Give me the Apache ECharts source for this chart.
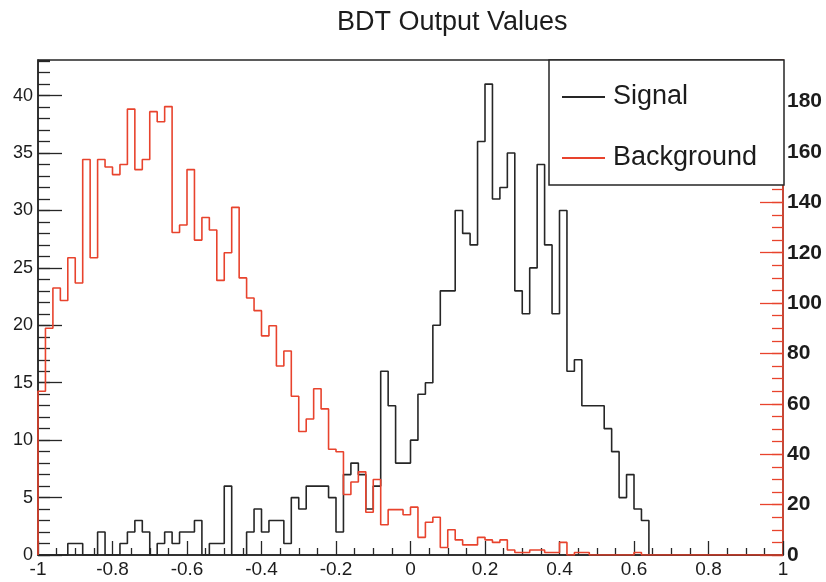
<!DOCTYPE html>
<html>
<head>
<meta charset="utf-8">
<script src="https://cdn.jsdelivr.net/npm/echarts@6/dist/echarts.min.js"></script>
<style>html,body{margin:0;padding:0;background:#fff;}#c{width:826px;height:582px;}</style>
</head>
<body>
<div id="c"></div>
<script>
// Histogram binning: 100 bins of width 0.02 from -1 to 1
const binLow = -1;
const binWidth = 0.02;

// Signal counts per bin (left axis)
const signalCounts = [
  0,0,0,0,1,1,0,0,2,0,
  0,1,2,3,2,0,1,2,1,2,
  2,3,0,1,1,6,0,0,2,4,
  2,3,3,1,5,4,6,6,6,5,
  2,7,8,7,4,6,16,13,8,8,
  10,14,15,20,23,23,30,28,27,36,
  41,31,32,35,23,21,25,34,27,21,
  30,16,17,13,13,13,11,9,5,7,
  4,3,0,0,0,0,0,0,0,0,
  0,0,0,0,0,0,0,0,0,0
];

// Background counts per bin (right axis)
const backgroundCounts = [
  65,90,106,101,118,108,157,118,157,154,
  151,155,177,153,157,176,172,178,128,131,
  153,125,134,129,109,120,138,110,102,97,
  87,91,75,81,63,49,54,66,58,42,
  41,24,29,33,17,30,12,18,18,16,
  19,7,13,15,3,10,6,4,4,7,
  6,5,6,2,1,1,2,2,1,1,
  5,0,1,1,0,0,0,0,0,0,
  1,0,0,0,0,0,0,0,0,0,
  0,0,0,0,0,0,0,0,0,0
];

const xTicks = { min: -1, max: 1, interval: 0.2 };
const leftAxis = { min: 0, max: 43.1, interval: 5, minor: 1 };
const rightAxis = { min: 0, max: 196.5, interval: 20, minor: 5 };

const titleText = 'BDT Output Values';
const seriesNames = ['Signal', 'Background'];

function histPoints(counts) {
  const pts = [[binLow, 0]];
  counts.forEach((c, i) => pts.push([+(binLow + i * binWidth).toFixed(4), c]));
  const end = +(binLow + counts.length * binWidth).toFixed(4);
  pts.push([end, counts[counts.length - 1]]);
  pts.push([end, 0]);
  return pts;
}

const BLACK = '#262626';
const RED = '#e8432d';
const FONT = 'Liberation Sans, Arial, sans-serif';

const chart = echarts.init(document.getElementById('c'), null, { renderer: 'canvas' });
chart.setOption({
  animation: false,
  backgroundColor: '#fff',
  title: {
    text: titleText,
    left: 332, top: 4,
    textStyle: { fontSize: 27, fontWeight: 'normal', color: '#1c1c1c', fontFamily: FONT }
  },
  grid: { left: 38, right: 43, top: 60, bottom: 27, show: true, borderColor: BLACK, borderWidth: 1.5, backgroundColor: 'transparent' },
  legend: {
    left: 557, top: 77, orient: 'vertical', z: 10,
    itemWidth: 43, itemHeight: 2, itemGap: 31, icon: 'rect',
    textStyle: { fontSize: 27, lineHeight: 30, color: '#1c1c1c', fontFamily: FONT, padding: [0, 0, 0, 3] },
    data: seriesNames
  },
  graphic: [{
    type: 'rect', z: 5,
    shape: { x: 549, y: 60, width: 235, height: 125 },
    style: { fill: '#fff', stroke: BLACK, lineWidth: 1.5 }
  }],
  xAxis: {
    type: 'value', min: xTicks.min, max: xTicks.max, interval: xTicks.interval,
    axisLine: { show: true, onZero: false, lineStyle: { color: BLACK, width: 1.5 } },
    axisTick: { inside: true, length: 14, lineStyle: { color: BLACK, width: 1.3 } },
    minorTick: { show: true, splitNumber: 4, length: 7, lineStyle: { color: BLACK, width: 1.3 } },
    splitLine: { show: false },
    axisLabel: { fontSize: 19, color: '#1c1c1c', fontFamily: FONT, margin: 5 }
  },
  yAxis: [
    {
      type: 'value', position: 'left', min: leftAxis.min, max: leftAxis.max, interval: leftAxis.interval,
      axisLine: { show: true, onZero: false, lineStyle: { color: BLACK, width: 1.5 } },
      axisTick: { show: true, inside: true, length: 24, lineStyle: { color: BLACK, width: 1.3 } },
      splitLine: { show: false },
      axisLabel: { fontSize: 18, color: '#1c1c1c', fontFamily: FONT, margin: 5, showMaxLabel: false }
    },
    {
      type: 'value', position: 'right', min: rightAxis.min, max: rightAxis.max, interval: rightAxis.interval,
      axisLine: { show: true, onZero: false, lineStyle: { color: RED, width: 1.5 } },
      axisTick: { show: true, inside: true, length: 23, lineStyle: { color: RED, width: 1.3 } },
      splitLine: { show: false },
      axisLabel: { fontSize: 21, fontWeight: 'bold', color: '#1c1c1c', fontFamily: FONT, margin: 4, showMaxLabel: false }
    },
    {
      type: 'value', position: 'left', min: leftAxis.min, max: leftAxis.max, interval: leftAxis.minor,
      axisLine: { show: false, onZero: false },
      axisTick: { show: true, inside: true, length: 12, lineStyle: { color: BLACK, width: 1.3 } },
      splitLine: { show: false },
      axisLabel: { show: false }
    },
    {
      type: 'value', position: 'right', min: rightAxis.min, max: rightAxis.max, interval: rightAxis.minor,
      axisLine: { show: false, onZero: false },
      axisTick: { show: true, inside: true, length: 11, lineStyle: { color: RED, width: 1.3 } },
      splitLine: { show: false },
      axisLabel: { show: false }
    }
  ],
  series: [
    {
      name: seriesNames[0], type: 'line', yAxisIndex: 0, step: 'end',
      data: histPoints(signalCounts), symbol: 'none', showSymbol: false,
      color: BLACK, lineStyle: { color: BLACK, width: 1.6 }, itemStyle: { color: BLACK }, z: 3
    },
    {
      name: seriesNames[1], type: 'line', yAxisIndex: 1, step: 'end',
      data: histPoints(backgroundCounts), symbol: 'none', showSymbol: false,
      color: RED, lineStyle: { color: RED, width: 1.6 }, itemStyle: { color: RED }, z: 3
    }
  ]
});
</script>
</body>
</html>
